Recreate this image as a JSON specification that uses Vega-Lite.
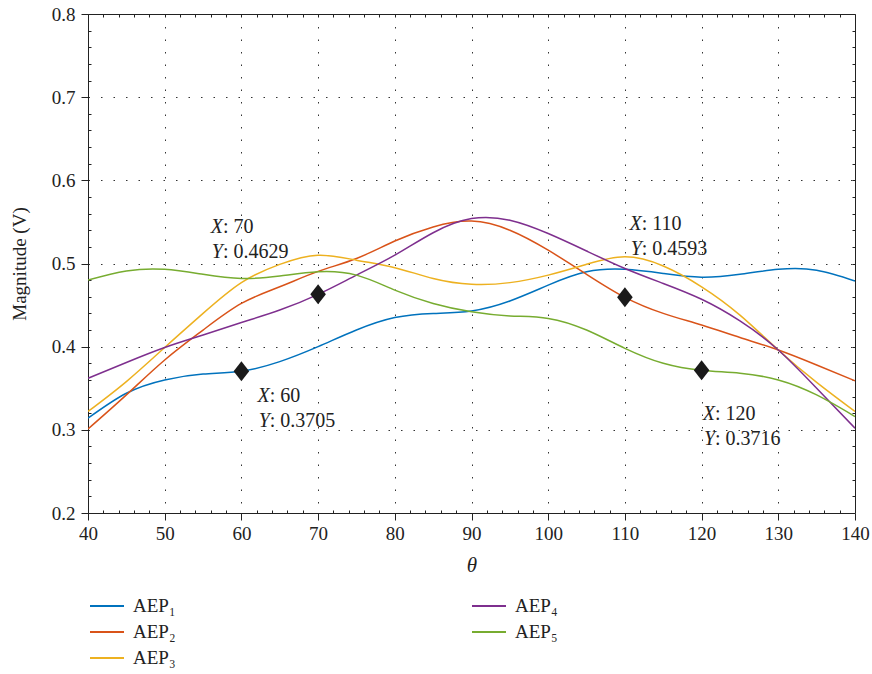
{
  "$schema": "https://vega.github.io/schema/vega-lite/v6.json",
  "width": 767,
  "height": 499,
  "autosize": {"type": "none"},
  "padding": {"left": 88, "top": 14, "right": 17, "bottom": 161},
  "background": "white",
  "config": {
    "font": "Liberation Serif",
    "view": {"stroke": null},
    "axis": {"labelFont": "Liberation Serif", "titleFont": "Liberation Serif", "labelColor": "#222", "titleColor": "#222", "tickColor": "#222", "domainColor": "#222", "titleFontWeight": "normal"},
    "legend": {"labelFont": "Liberation Serif", "labelColor": "#222"}
  },
  "datasets": {
    "curves": [
      {"series": "AEP₁", "theta": 40, "v": 0.314}, {"series": "AEP₁", "theta": 45, "v": 0.344}, {"series": "AEP₁", "theta": 50, "v": 0.360}, {"series": "AEP₁", "theta": 55, "v": 0.367}, {"series": "AEP₁", "theta": 60, "v": 0.3705}, {"series": "AEP₁", "theta": 65, "v": 0.382}, {"series": "AEP₁", "theta": 70, "v": 0.400}, {"series": "AEP₁", "theta": 75, "v": 0.420}, {"series": "AEP₁", "theta": 80, "v": 0.435}, {"series": "AEP₁", "theta": 85, "v": 0.440}, {"series": "AEP₁", "theta": 90, "v": 0.443}, {"series": "AEP₁", "theta": 95, "v": 0.455}, {"series": "AEP₁", "theta": 100, "v": 0.474}, {"series": "AEP₁", "theta": 105, "v": 0.490}, {"series": "AEP₁", "theta": 110, "v": 0.493}, {"series": "AEP₁", "theta": 115, "v": 0.488}, {"series": "AEP₁", "theta": 120, "v": 0.4835}, {"series": "AEP₁", "theta": 125, "v": 0.487}, {"series": "AEP₁", "theta": 130, "v": 0.493}, {"series": "AEP₁", "theta": 135, "v": 0.492}, {"series": "AEP₁", "theta": 140, "v": 0.479},
      {"series": "AEP₂", "theta": 40, "v": 0.301}, {"series": "AEP₂", "theta": 45, "v": 0.342}, {"series": "AEP₂", "theta": 50, "v": 0.384}, {"series": "AEP₂", "theta": 55, "v": 0.420}, {"series": "AEP₂", "theta": 60, "v": 0.452}, {"series": "AEP₂", "theta": 65, "v": 0.472}, {"series": "AEP₂", "theta": 70, "v": 0.4905}, {"series": "AEP₂", "theta": 75, "v": 0.506}, {"series": "AEP₂", "theta": 80, "v": 0.527}, {"series": "AEP₂", "theta": 85, "v": 0.544}, {"series": "AEP₂", "theta": 90, "v": 0.551}, {"series": "AEP₂", "theta": 95, "v": 0.540}, {"series": "AEP₂", "theta": 100, "v": 0.516}, {"series": "AEP₂", "theta": 105, "v": 0.487}, {"series": "AEP₂", "theta": 110, "v": 0.4593}, {"series": "AEP₂", "theta": 115, "v": 0.440}, {"series": "AEP₂", "theta": 120, "v": 0.426}, {"series": "AEP₂", "theta": 125, "v": 0.411}, {"series": "AEP₂", "theta": 130, "v": 0.396}, {"series": "AEP₂", "theta": 135, "v": 0.378}, {"series": "AEP₂", "theta": 140, "v": 0.359},
      {"series": "AEP₃", "theta": 40, "v": 0.322}, {"series": "AEP₃", "theta": 45, "v": 0.358}, {"series": "AEP₃", "theta": 50, "v": 0.399}, {"series": "AEP₃", "theta": 55, "v": 0.440}, {"series": "AEP₃", "theta": 60, "v": 0.477}, {"series": "AEP₃", "theta": 65, "v": 0.499}, {"series": "AEP₃", "theta": 70, "v": 0.510}, {"series": "AEP₃", "theta": 75, "v": 0.504}, {"series": "AEP₃", "theta": 80, "v": 0.495}, {"series": "AEP₃", "theta": 85, "v": 0.482}, {"series": "AEP₃", "theta": 90, "v": 0.475}, {"series": "AEP₃", "theta": 95, "v": 0.477}, {"series": "AEP₃", "theta": 100, "v": 0.486}, {"series": "AEP₃", "theta": 105, "v": 0.499}, {"series": "AEP₃", "theta": 110, "v": 0.508}, {"series": "AEP₃", "theta": 115, "v": 0.497}, {"series": "AEP₃", "theta": 120, "v": 0.472}, {"series": "AEP₃", "theta": 125, "v": 0.438}, {"series": "AEP₃", "theta": 130, "v": 0.396}, {"series": "AEP₃", "theta": 135, "v": 0.357}, {"series": "AEP₃", "theta": 140, "v": 0.322},
      {"series": "AEP₄", "theta": 40, "v": 0.362}, {"series": "AEP₄", "theta": 45, "v": 0.381}, {"series": "AEP₄", "theta": 50, "v": 0.399}, {"series": "AEP₄", "theta": 55, "v": 0.414}, {"series": "AEP₄", "theta": 60, "v": 0.429}, {"series": "AEP₄", "theta": 65, "v": 0.444}, {"series": "AEP₄", "theta": 70, "v": 0.4629}, {"series": "AEP₄", "theta": 75, "v": 0.486}, {"series": "AEP₄", "theta": 80, "v": 0.510}, {"series": "AEP₄", "theta": 85, "v": 0.537}, {"series": "AEP₄", "theta": 90, "v": 0.554}, {"series": "AEP₄", "theta": 95, "v": 0.552}, {"series": "AEP₄", "theta": 100, "v": 0.536}, {"series": "AEP₄", "theta": 105, "v": 0.515}, {"series": "AEP₄", "theta": 110, "v": 0.494}, {"series": "AEP₄", "theta": 115, "v": 0.476}, {"series": "AEP₄", "theta": 120, "v": 0.457}, {"series": "AEP₄", "theta": 125, "v": 0.431}, {"series": "AEP₄", "theta": 130, "v": 0.396}, {"series": "AEP₄", "theta": 135, "v": 0.350}, {"series": "AEP₄", "theta": 140, "v": 0.302},
      {"series": "AEP₅", "theta": 40, "v": 0.480}, {"series": "AEP₅", "theta": 45, "v": 0.491}, {"series": "AEP₅", "theta": 50, "v": 0.493}, {"series": "AEP₅", "theta": 55, "v": 0.487}, {"series": "AEP₅", "theta": 60, "v": 0.482}, {"series": "AEP₅", "theta": 65, "v": 0.485}, {"series": "AEP₅", "theta": 70, "v": 0.490}, {"series": "AEP₅", "theta": 75, "v": 0.486}, {"series": "AEP₅", "theta": 80, "v": 0.468}, {"series": "AEP₅", "theta": 85, "v": 0.452}, {"series": "AEP₅", "theta": 90, "v": 0.442}, {"series": "AEP₅", "theta": 95, "v": 0.437}, {"series": "AEP₅", "theta": 100, "v": 0.434}, {"series": "AEP₅", "theta": 105, "v": 0.420}, {"series": "AEP₅", "theta": 110, "v": 0.398}, {"series": "AEP₅", "theta": 115, "v": 0.380}, {"series": "AEP₅", "theta": 120, "v": 0.3716}, {"series": "AEP₅", "theta": 125, "v": 0.368}, {"series": "AEP₅", "theta": 130, "v": 0.360}, {"series": "AEP₅", "theta": 135, "v": 0.342}, {"series": "AEP₅", "theta": 140, "v": 0.316}
    ],
    "markers": [
      {"theta": 60, "v": 0.3705}, {"theta": 70, "v": 0.4629}, {"theta": 110, "v": 0.4593}, {"theta": 120, "v": 0.3716}
    ],
    "labels": [
      {"letter": "X", "rest": ": 70", "lx": 57.6, "ly": 0.537},
      {"letter": "Y", "rest": ": 0.4629", "lx": 57.6, "ly": 0.507},
      {"letter": "X", "rest": ": 60", "lx": 63.7, "ly": 0.334},
      {"letter": "Y", "rest": ": 0.3705", "lx": 63.7, "ly": 0.304},
      {"letter": "X", "rest": ": 110", "lx": 112.2, "ly": 0.540},
      {"letter": "Y", "rest": ": 0.4593", "lx": 112.2, "ly": 0.510},
      {"letter": "X", "rest": ": 120", "lx": 121.75, "ly": 0.312},
      {"letter": "Y", "rest": ": 0.3716", "lx": 121.75, "ly": 0.282}
    ]
  },
  "resolve": {"axis": {"x": "independent", "y": "independent"}},
  "layer": [
    {
      "data": {"name": "curves"},
      "mark": {"type": "line", "interpolate": "natural", "strokeWidth": 1.5, "clip": true},
      "encoding": {
        "x": {"field": "theta", "type": "quantitative", "scale": {"domain": [40, 140], "nice": false, "zero": false},
          "axis": {"orient": "bottom", "values": [40, 50, 60, 70, 80, 90, 100, 110, 120, 130, 140], "tickSize": 7, "labelFontSize": 19, "labelPadding": 4, "labelFlush": false, "grid": true, "gridDash": [1.5, 11], "gridColor": "#333", "gridOpacity": 1, "domain": true, "title": "θ", "titleFontStyle": "italic", "titleFontSize": 21, "titlePadding": 11}},
        "y": {"field": "v", "type": "quantitative", "scale": {"domain": [0.2, 0.8], "nice": false, "zero": false},
          "axis": {"orient": "left", "values": [0.2, 0.3, 0.4, 0.5, 0.6, 0.7, 0.8], "format": ".1f", "tickSize": 7, "labelFontSize": 19, "labelPadding": 6, "labelFlush": false, "grid": true, "gridDash": [1.5, 11], "gridColor": "#333", "gridOpacity": 1, "domain": true, "title": "Magnitude (V)", "titleFontSize": 19, "titlePadding": 22}},
        "color": {"field": "series", "type": "nominal",
          "scale": {"domain": ["AEP₁", "AEP₂", "AEP₃", "AEP₄", "AEP₅"], "range": ["#0072BD", "#D95319", "#EDB120", "#7E2F8E", "#77AC30"]},
          "legend": {"orient": "none", "legendX": 8, "legendY": 581, "columns": 2, "title": null, "symbolType": "M-1.7,0L1.7,0", "symbolSize": 400, "symbolStrokeWidth": 2, "labelFontSize": 19, "labelOffset": 15, "columnPadding": 292, "rowPadding": 5}}
      }
    },
    {
      "data": {"name": "markers"},
      "mark": {"type": "point", "filled": true, "shape": "M0,-1L0.78,0L0,1L-0.78,0Z", "size": 400, "color": "#1a1a1a", "opacity": 1},
      "encoding": {
        "x": {"field": "theta", "type": "quantitative", "axis": {"orient": "bottom", "values": [42,44,46,48,52,54,56,58,62,64,66,68,72,74,76,78,82,84,86,88,92,94,96,98,102,104,106,108,112,114,116,118,122,124,126,128,132,134,136,138], "tickSize": -3, "labels": false, "domain": false, "grid": false, "title": null}},
        "y": {"field": "v", "type": "quantitative", "axis": {"orient": "left", "values": [0.22,0.24,0.26,0.28,0.32,0.34,0.36,0.38,0.42,0.44,0.46,0.48,0.52,0.54,0.56,0.58,0.62,0.64,0.66,0.68,0.72,0.74,0.76,0.78], "tickSize": -3, "labels": false, "domain": false, "grid": false, "title": null}}
      }
    },
    {
      "data": {"name": "labels"},
      "mark": {"type": "text", "align": "right", "baseline": "alphabetic", "fontSize": 20, "fontStyle": "italic", "color": "#222"},
      "encoding": {
        "x": {"field": "lx", "type": "quantitative", "axis": {"orient": "top", "values": [42,44,46,48,50,52,54,56,58,60,62,64,66,68,70,72,74,76,78,80,82,84,86,88,90,92,94,96,98,100,102,104,106,108,110,112,114,116,118,120,122,124,126,128,130,132,134,136,138], "tickSize": -3, "labels": false, "domain": true, "grid": false, "title": null}},
        "y": {"field": "ly", "type": "quantitative", "axis": {"orient": "right", "values": [0.22,0.24,0.26,0.28,0.3,0.32,0.34,0.36,0.38,0.4,0.42,0.44,0.46,0.48,0.5,0.52,0.54,0.56,0.58,0.6,0.62,0.64,0.66,0.68,0.7,0.72,0.74,0.76,0.78], "tickSize": -3, "labels": false, "domain": true, "grid": false, "title": null}},
        "text": {"field": "letter"}
      }
    },
    {
      "data": {"name": "labels"},
      "mark": {"type": "text", "align": "left", "baseline": "alphabetic", "fontSize": 20, "color": "#222"},
      "encoding": {
        "x": {"field": "lx", "type": "quantitative", "axis": null},
        "y": {"field": "ly", "type": "quantitative", "axis": null},
        "text": {"field": "rest"}
      }
    }
  ]
}
